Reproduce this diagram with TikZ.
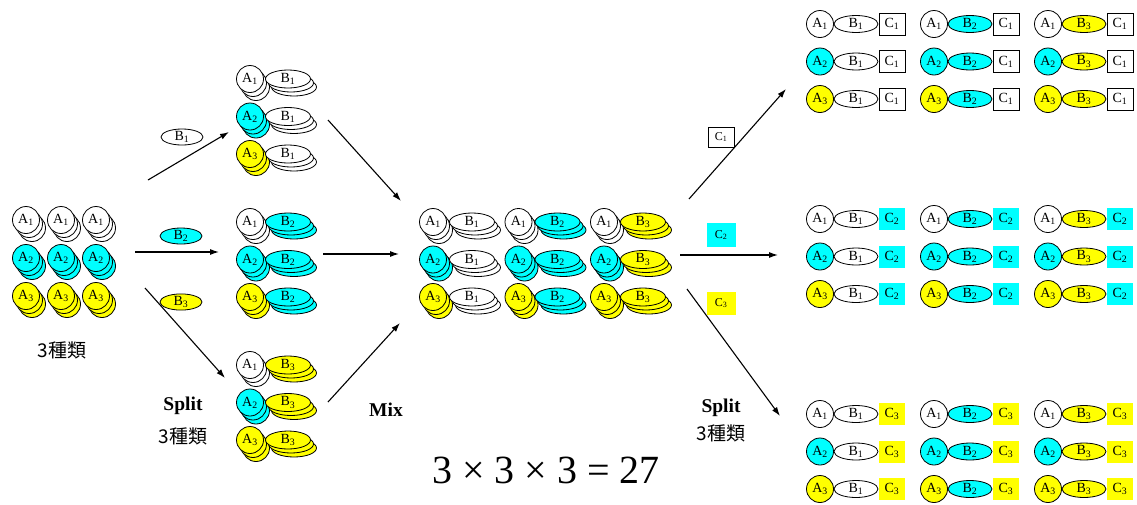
\documentclass[tikz,border=0pt]{standalone}
\usepackage{fontspec}
\setmainfont{Liberation Serif}
\newfontfamily\cjk{Noto Sans CJK JP}
\usetikzlibrary{shapes.geometric,arrows.meta}
\definecolor{aqua}{RGB}{0,255,255}
\definecolor{lemon}{RGB}{255,255,0}
\newcommand{\lbl}{\fontsize{14}{16}\selectfont}
% stacked bead A (three layers, front one labelled)
\newcommand{\astack}[4]{%
  \foreach \s in {2,1}
    \node[acirc, fill=#3, xshift=\s*3pt, yshift=-\s*4pt] at (#2) {};
  \node[acirc, fill=#3] (#1) at (#2) {A\textsubscript{#4}};}
% stacked block B
\newcommand{\bstack}[4]{%
  \foreach \s in {2,1}
    \node[bell, fill=#3, xshift=\s*3pt, yshift=-\s*4pt] at (#2) {};
  \node[bell, fill=#3] (#1) at (#2) {B\textsubscript{#4}};}
\begin{document}
\begin{tikzpicture}[x=1pt, y=-1pt,
acirc/.style={circle, draw, line width=0.8pt, minimum size=27pt, inner sep=0pt, font=\lbl},
bell/.style={ellipse, draw, line width=0.8pt, minimum width=45pt, minimum height=18pt, inner sep=0pt, font=\lbl},
cbox/.style={rectangle, minimum width=26pt, minimum height=22pt, inner sep=0pt, line width=0.8pt, font=\lbl},
arr/.style={-{Latex[length=9pt,width=6pt]}, line width=1.1pt},
big/.style={font=\fontsize{19}{22}\selectfont},
bold/.style={font=\fontsize{19.5}{22}\selectfont\bfseries}
]
\useasboundingbox (0,0) rectangle (1137,504);

% start: 3 kinds of A
\foreach \i/\c in {1/white,2/aqua,3/lemon}
  \foreach \j in {0,1,2}
    \astack{l\i\j}{{26+35*\j},{182+38*\i}}{\c}{\i};
\node[big] (n0) at (62,350) {\cjk 3種類};

% split 1: couple B
\foreach \k/\d in {1/white,2/aqua,3/lemon}
  \foreach \i/\c in {1/white,2/aqua,3/lemon} {
    \astack{pa\k\i}{250,{-101.5+143*\k+37.5*\i}}{\c}{\i};
    \bstack{pb\k\i}{288,{-101.5+143*\k+37.5*\i}}{\d}{\k};
  }

% mix
\foreach \k/\d in {1/white,2/aqua,3/lemon}
  \foreach \i/\c in {1/white,2/aqua,3/lemon} {
    \astack{ma\k\i}{{347.5+85.5*\k},{184.5+37.5*\i}}{\c}{\i};
    \bstack{mb\k\i}{{386.5+85.5*\k},{184.5+37.5*\i}}{\d}{\k};
  }

% split 2: couple C
\foreach \m/\e/\o in {1/white/black,2/aqua/none,3/lemon/none}
  \foreach \k/\d in {1/white,2/aqua,3/lemon}
    \foreach \i/\c in {1/white,2/aqua,3/lemon} {
      \node[acirc, fill=\c] (ra\m\k\i) at ({706+114*\k},{-208.5+195*\m+37.5*\i}) {A\textsubscript{\i}};
      \node[bell, fill=\d, minimum width=44pt, minimum height=17pt] (rb\m\k\i) at ({742+114*\k},{-208.5+195*\m+37.5*\i}) {B\textsubscript{\k}};
      \node[cbox, fill=\e, draw=\o] (rc\m\k\i) at ({778+114*\k},{-208.5+195*\m+37.5*\i}) {C\textsubscript{\m}};
    }

% reagents on the arrows
\node[bell, fill=white, minimum width=42pt, minimum height=16pt] (lb1) at (182,137) {B\textsubscript{1}};
\node[bell, fill=aqua, minimum width=42pt, minimum height=16pt] (lb2) at (181,236) {B\textsubscript{2}};
\node[bell, fill=lemon, minimum width=42pt, minimum height=16pt] (lb3) at (181,302) {B\textsubscript{3}};
\node[cbox, draw, fill=white, minimum height=20pt, font=\fontsize{12}{14}\selectfont] (lc1) at (721,137) {C\textsubscript{1}};
\node[cbox, fill=aqua, minimum width=29pt, minimum height=24pt, font=\fontsize{12}{14}\selectfont] (lc2) at (721,235) {C\textsubscript{2}};
\node[cbox, fill=lemon, minimum width=29pt, minimum height=23pt, font=\fontsize{12}{14}\selectfont] (lc3) at (721,303) {C\textsubscript{3}};

% arrows
\coordinate (s1a) at (148,180); \coordinate (s1b) at (229,132);
\coordinate (s2a) at (135,252); \coordinate (s2b) at (219,252);
\coordinate (s3a) at (145,288); \coordinate (s3b) at (225,378);
\coordinate (m1a) at (328,120); \coordinate (m1b) at (401,201);
\coordinate (m2a) at (323,254); \coordinate (m2b) at (399,254);
\coordinate (m3a) at (328,402); \coordinate (m3b) at (400,323);
\coordinate (r1a) at (689,199); \coordinate (r1b) at (786,89);
\coordinate (r2a) at (680,255); \coordinate (r2b) at (778,255);
\coordinate (r3a) at (687,289); \coordinate (r3b) at (780,416);
\foreach \a in {s1,s2,s3,m1,m2,m3,r1,r2,r3}
  \draw[arr] (\a a) -- (\a b);

\node[bold] (sp1) at (183,406) {Split};
\node[big] (n1) at (183,436) {\cjk 3種類};
\node[bold] (mix) at (386,410) {Mix};
\node[bold] (sp2) at (721,408) {Split};
\node[big] (n2) at (721,433) {\cjk 3種類};
\node[font=\fontsize{40}{44}\selectfont] (eq) at (546,470) {3 × 3 × 3 = 27};
\end{tikzpicture}
\end{document}
